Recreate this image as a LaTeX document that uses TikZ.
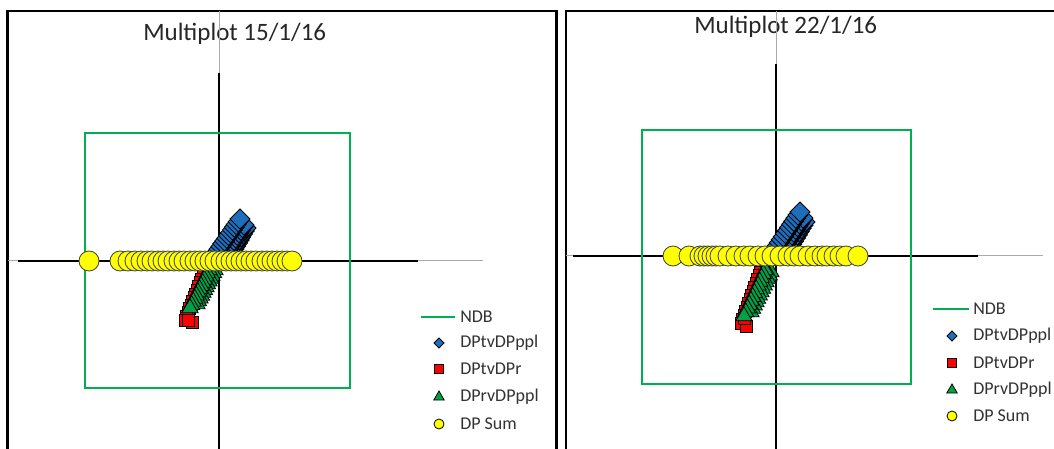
\documentclass[tikz,border=0pt]{standalone}
\usepackage{fontspec}
\setmainfont{Carlito}
\usetikzlibrary{shapes.geometric}
\definecolor{ndbgreen}{RGB}{0,176,80}
\definecolor{dpblue}{RGB}{30,110,190}
\definecolor{dpred}{RGB}{255,0,0}
\definecolor{dpgreen}{RGB}{0,160,70}
\definecolor{dpyellow}{RGB}{255,255,0}
\definecolor{axgray}{RGB}{170,170,170}
\definecolor{txt}{RGB}{38,38,38}
\definecolor{legtxt}{RGB}{50,50,50}
\tikzset{
  frameline/.style={line width=1.9pt,black},
  axisline/.style={line width=1.5pt,black},
  axisthin/.style={line width=0.75pt,axgray},
  ndbline/.style={line width=1.5pt,ndbgreen},
  mk/.style={inner sep=0pt,outer sep=0pt,draw=black,line width=0.6pt},
  bluemk/.style={mk,diamond,aspect=1,minimum size=15pt,fill=dpblue},
  redmk/.style={mk,rectangle,minimum size=9pt,fill=dpred},
  greenmk/.style={mk,regular polygon,regular polygon sides=3,minimum size=14pt,fill=dpgreen},
  yellowmk/.style={mk,circle,minimum size=15pt,fill=dpyellow,draw=black!75},
  lblue/.style={mk,diamond,aspect=1,minimum size=7.5pt,fill=dpblue},
  lred/.style={mk,rectangle,minimum size=7pt,fill=dpred},
  lgreen/.style={mk,regular polygon,regular polygon sides=3,minimum size=9pt,fill=dpgreen},
  lyellow/.style={mk,circle,minimum size=7.5pt,fill=dpyellow},
  titletext/.style={font=\fontsize{18.75pt}{22pt}\selectfont,text=txt,inner sep=0pt,anchor=base west},
  legtext/.style={font=\fontsize{13.5pt}{16pt}\selectfont,text=legtxt,inner sep=0pt,anchor=west},
}
\begin{document}
\begin{tikzpicture}[x=0.75pt,y=-0.75pt]
\useasboundingbox (0,0) rectangle (1054,449);
\begin{scope}
\clip (0,0) rectangle (1054,449);
% ---------------- LEFT PANEL ----------------
\draw[frameline] (7.5,470) -- (7.5,11) -- (556.5,11) -- (556.5,470);
\node[titletext] (t1) at (143,41) {Multiplot 15/1/16};
\coordinate (lvt) at (219,11);
\coordinate (lvm) at (219,73);
\coordinate (lvb) at (219,470);
\draw[axisthin] (lvt) -- (lvm);
\draw[axisline] (lvm) -- (lvb);
\coordinate (lhl) at (8,261);
\coordinate (lha) at (18,261);
\coordinate (lhb) at (418,261);
\coordinate (lhr) at (483,261);
\draw[axisthin] (lhl) -- (lha);
\draw[axisline] (lha) -- (lhb);
\draw[axisthin] (lhb) -- (lhr);
\draw[ndbline] (85,133) rectangle (350,388);
% blue diamonds (three overlapping rows)
\foreach \i in {0,...,10}{
  \node[bluemk] (lbc\i) at ({229+17*\i/10},{258-30*\i/10}) {};
}
\foreach \i in {0,...,12}{
  \node[bluemk] (lbb\i) at ({224+20*\i/12},{256-31*\i/12}) {};
}
\foreach \i in {0,...,12}{
  \node[bluemk] (lb\i) at ({217+23*\i/12},{252-33*\i/12}) {};
}
% red squares
\foreach \i in {0,...,14}{
  \node[redmk] (lr\i) at ({206-21*\i/14},{268+52*\i/14}) {};
}
\node[redmk] (lrx1) at (192,322) {};
\node[redmk] (lrx2) at (188,320) {};
% green triangles (two rows)
\foreach \i in {0,...,12}{
  \node[greenmk] (lgg\i) at ({215-18*\i/12},{270+34*\i/12}) {};
}
\foreach \i in {0,...,12}{
  \node[greenmk] (lg\i) at ({209-19*\i/12},{270+38*\i/12}) {};
}
% yellow circles
\foreach[count=\k] \x in {89,120,128,135,141,147,152,158,163,168,174,179,184,190,195,200,205,210,215,221,226,231,236,241,246,251,256,262,267,272,277,282,287,292}{
  \node[yellowmk] (ly\k) at (\x,261) {};
}
% legend
\coordinate (ll1) at (421,317);
\coordinate (ll2) at (455,317);
\draw[ndbline] (ll1) -- (ll2);
\node[legtext] (lt0) at (460,317) {NDB};
\node[lblue] (lm1) at (439,343) {};
\node[legtext] (lt1) at (460,343) {DPtvDPppl};
\node[lred] (lm2) at (439,369) {};
\node[legtext] (lt2) at (460,369) {DPtvDPr};
\node[lgreen] (lm3) at (439,397) {};
\node[legtext] (lt3) at (460,397) {DPrvDPppl};
\node[lyellow] (lm4) at (439,424) {};
\node[legtext] (lt4) at (460,424) {DP Sum};
% ---------------- RIGHT PANEL ----------------
\draw[frameline] (566,470) -- (566,11) -- (1070,11);
\node[titletext] (t2) at (694,33.5) {Multiplot 22/1/16};
\coordinate (rvt) at (776,11);
\coordinate (rvm) at (776,64);
\coordinate (rvb) at (776,470);
\draw[axisthin] (rvt) -- (rvm);
\draw[axisline] (rvm) -- (rvb);
\coordinate (rhl) at (566,256);
\coordinate (rha) at (573,256);
\coordinate (rhb) at (978,256);
\coordinate (rhr) at (1043,256);
\draw[axisthin] (rhl) -- (rha);
\draw[axisline] (rha) -- (rhb);
\draw[axisthin] (rhb) -- (rhr);
\draw[ndbline] (642,130) rectangle (911,384);
\foreach \i in {0,...,10}{
  \node[bluemk] (rbc\i) at ({786+19*\i/10},{254-32*\i/10}) {};
}
\foreach \i in {0,...,12}{
  \node[bluemk] (rbb\i) at ({781+22*\i/12},{252-34*\i/12}) {};
}
\foreach \i in {0,...,12}{
  \node[bluemk] (rb\i) at ({775+25*\i/12},{249-37*\i/12}) {};
}
\foreach \i in {0,...,14}{
  \node[redmk] (rr\i) at ({762-21*\i/14},{268+55*\i/14}) {};
}
\node[redmk] (rrx1) at (746,326) {};
\node[redmk] (rrx2) at (744,318) {};
\foreach \i in {0,...,12}{
  \node[greenmk] (rgg\i) at ({771-20*\i/12},{272+40*\i/12}) {};
}
\foreach \i in {0,...,12}{
  \node[greenmk] (rg\i) at ({765-21*\i/12},{270+46*\i/12}) {};
}
\foreach[count=\k] \x in {673,689,700,704,708,712,716,720,728,736,744,750,758,765,772,780,788,794,800,808,815,822,827,834,840,846,858}{
  \node[yellowmk] (ry\k) at (\x,256) {};
}
\coordinate (rl1) at (933,309);
\coordinate (rl2) at (969,309);
\draw[ndbline] (rl1) -- (rl2);
\node[legtext] (rt0) at (973,309) {NDB};
\node[lblue] (rm1) at (952,336) {};
\node[legtext] (rt1) at (973,336) {DPtvDPppl};
\node[lred] (rm2) at (952,363) {};
\node[legtext] (rt2) at (973,363) {DPtvDPr};
\node[lgreen] (rm3) at (952,390) {};
\node[legtext] (rt3) at (973,390) {DPrvDPppl};
\node[lyellow] (rm4) at (952,416) {};
\node[legtext] (rt4) at (973,416) {DP Sum};
\end{scope}
\end{tikzpicture}
\end{document}
